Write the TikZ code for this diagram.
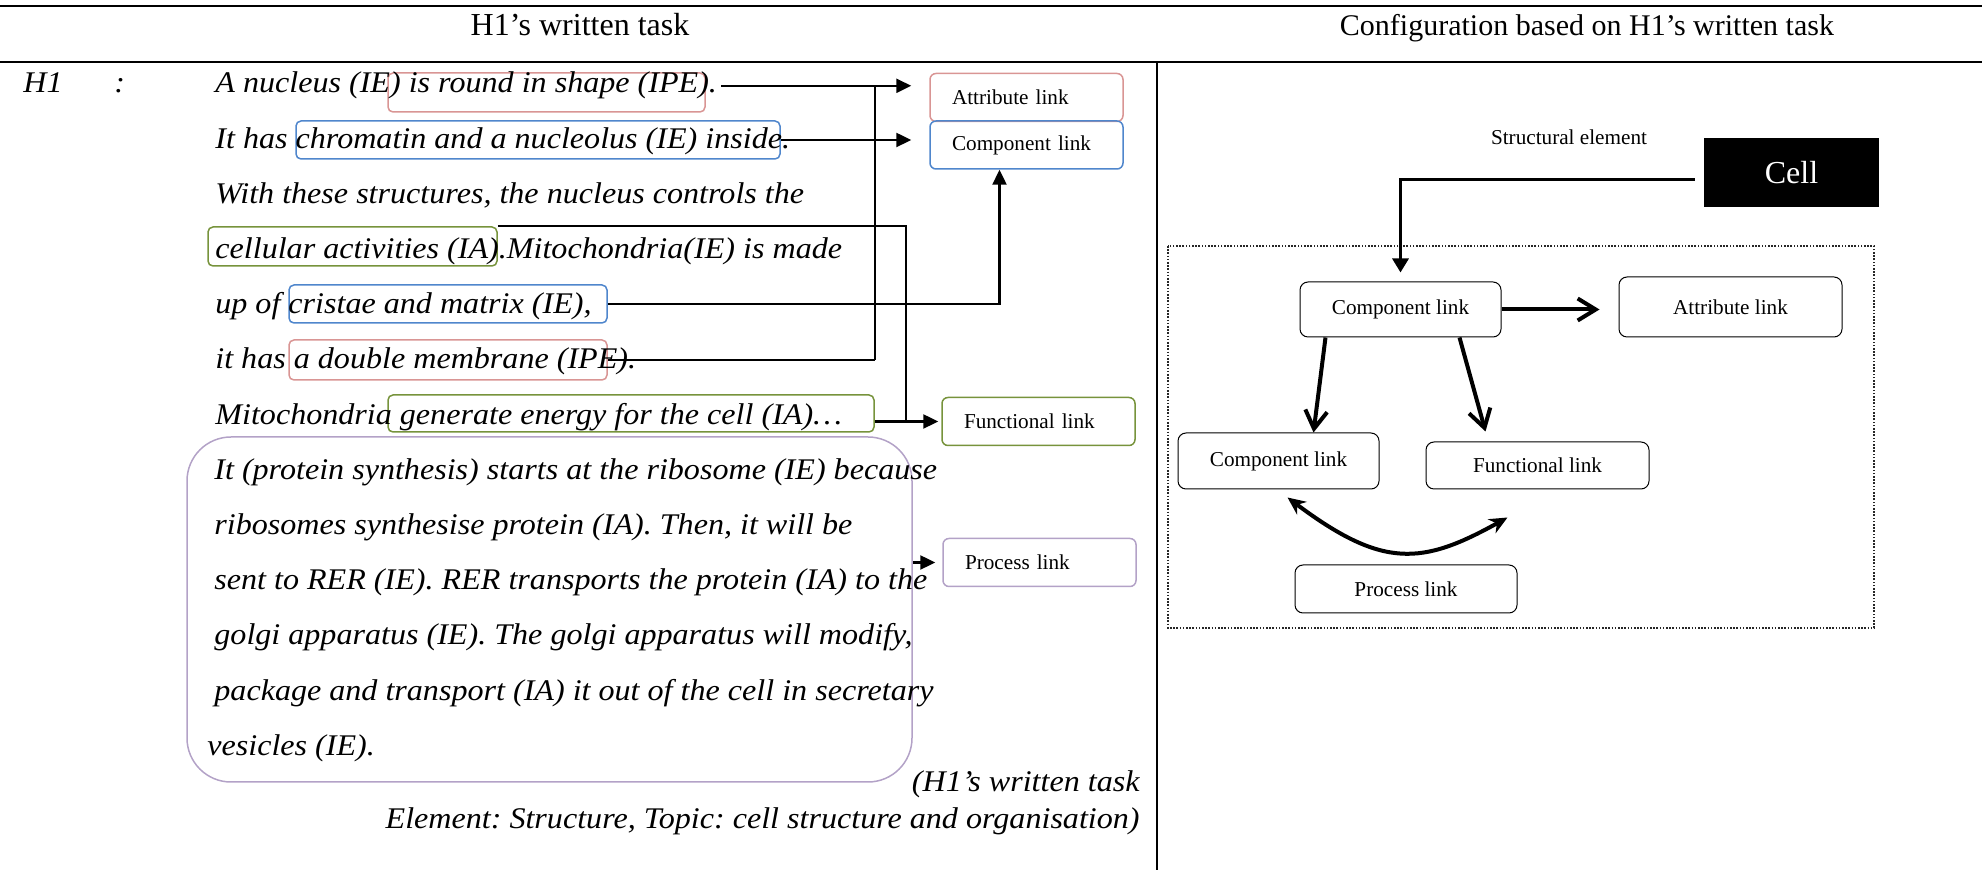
\documentclass[tikz,border=0pt]{standalone}
\usepackage{fontspec}
\setmainfont{Liberation Serif}
\newfontfamily\taskfamily[FakeStretch=1.07]{Liberation Serif}
\usepackage{tikz}
\usetikzlibrary{calc,arrows.meta}

\definecolor{hlpink}{RGB}{217,149,148}
\definecolor{hlblue}{RGB}{79,134,204}
\definecolor{hlgreen}{RGB}{119,147,60}
\definecolor{hlpurple}{RGB}{179,162,199}

\newcommand{\bodyfont}{\fontsize{15}{18}\taskfamily\itshape}
\newcommand{\linkfont}{\fontsize{10.6}{13}\selectfont}

\begin{document}
\frenchspacing
\begin{tikzpicture}[x=0.5pt, y=-0.5pt,
    body/.style={font=\bodyfont, inner sep=0pt, anchor=base west},
    head/.style={font=\fontsize{16}{19}\selectfont, inner sep=0pt, anchor=base},
    hlbox/.style={draw=#1, rounded corners=2.5pt, line width=0.75pt, inner sep=0pt},
    linkbox/.style={draw=#1, rounded corners=3pt, line width=0.75pt, font=\linkfont,
      text width=74.5pt, inner xsep=11pt, align=left, minimum height=24pt},
    cfgbox/.style={draw, rounded corners=4pt, line width=0.5pt, font=\linkfont, inner sep=0pt},
    link/.style={line width=1.2pt, -{Triangle[length=7.5pt,width=7pt]}},
    guide/.style={line width=0.75pt},
    barb/.style={line width=2pt, -{Straight Barb[length=9pt,width=11pt]}},
    cyc/.style={line width=2pt, {Stealth[length=9pt,width=8pt]}-{Stealth[length=9pt,width=8pt]}}
  ]
  \useasboundingbox (0,0) rectangle (1982,870);

  % Table rules and headings
  \draw[line width=1pt] (0,6) -- (1982,6);
  \draw[line width=1pt] (0,62) -- (1982,62);
  \draw[line width=0.75pt] (1157,62) -- (1157,870);
  \node[head] (th1) at (580,36) {H1’s written task};
  \node[head, font=\fontsize{15}{18}\selectfont] (th2) at (1587,36)
    {Configuration based on H1’s written task};

  % Highlights behind the written task
  \node[hlbox=hlpink, minimum width=158.5pt, minimum height=19.5pt] (hA) at (546.5,92.5) {};
  \node[hlbox=hlblue, minimum width=242pt, minimum height=19pt] (hB) at (538,140) {};
  \node[hlbox=hlgreen, minimum width=144.5pt, minimum height=19.5pt] (hC) at (352.5,246.5) {};
  \node[hlbox=hlblue, minimum width=159pt, minimum height=19pt] (hD) at (448,304) {};
  \node[hlbox=hlpink, minimum width=159pt, minimum height=20pt] (hE) at (448,360) {};
  \node[hlbox=hlgreen, minimum width=243pt, minimum height=18.5pt] (hF) at (631,413.5) {};
  \node[hlbox=hlpurple, rounded corners=22pt, minimum width=362.5pt,
    minimum height=172.5pt] (hG) at (549.5,609.5) {};

  % The written task, one line each
  \node[body] (who) at (23,93) {H1};
  \node[body] (colon) at (114,93) {:};
  \foreach \n/\x/\txt in {
      1/215/{A nucleus (IE) is round in shape (IPE).},
      2/215/{It has chromatin and a nucleolus (IE) inside.},
      3/215/{With these structures, the nucleus controls the},
      4/215/{cellular activities (IA).Mitochondria(IE) is made},
      5/215/{up of cristae and matrix (IE),},
      6/215/{it has a double membrane (IPE).},
      7/215/{Mitochondria generate energy for the cell (IA)…},
      8/214/{It (protein synthesis) starts at the ribosome (IE) because},
      9/214/{ribosomes synthesise protein (IA). Then, it will be},
      10/214/{sent to RER (IE). RER transports the protein (IA) to the},
      11/214/{golgi apparatus (IE). The golgi apparatus will modify,},
      12/214/{package and transport (IA) it out of the cell in secretary},
      13/207/{vesicles (IE).}} {
    \node[body] (l\n) at (\x, {93+55.2*(\n-1)}) {\txt};
  }
  \node[body, anchor=base east] (src1) at (1140,792) {(H1’s written task};
  \node[body, anchor=base east] (src2) at (1140,829)
    {Element: Structure, Topic: cell structure and organisation)};

  % Link boxes of the written task
  \node[linkbox=hlpink] (attr1) at (1026.5,97.5) {Attribute link};
  \node[linkbox=hlblue] (comp1) at (1026.5,145) {Component link};
  \node[linkbox=hlgreen] (func1) at (1038.5,421.5) {Functional link};
  \node[linkbox=hlpurple] (proc1) at (1039.5,562.5) {Process link};

  % Connectors of the written task
  \coordinate (j1) at (l1.east -| 875,0);
  \coordinate (j3) at (func1.west -| 906,0);
  \draw[link, shorten >=9pt, shorten <=2pt] (l1.east) -- (l1.east -| attr1.west);
  \draw[link, shorten >=9pt] (hB.east) -- (hB.east -| comp1.west);
  \draw[line width=1.2pt] (hE.east) -- (hE.east -| j1);
  \draw[guide] (hE.east -| j1) -- (j1);
  \draw[link] (hD.east) -| ($(comp1.south)+(-27,0)$);
  \draw[guide] (hC.north east) -| (j3);
  \draw[link, shorten >=1.5pt] (hF.east |- func1.west) -- (func1.west);
  \draw[link, shorten >=3.5pt] (hG.east |- proc1.west) -- (proc1.west);

  % Configuration
  \draw[black!85, line width=0.6pt, dash pattern=on 0.8pt off 0.8pt] (1168,246) rectangle (1874,628);
  \node[font=\linkfont] (struct) at (1569,137) {Structural element};
  \node[fill=black, text=white, font=\fontsize{16}{19}\selectfont,
    minimum width=87.5pt, minimum height=34.5pt] (cell) at (1791.5,172.5) {Cell};
  \node[cfgbox, minimum width=100.5pt, minimum height=27.5pt] (comp2) at (1400.5,309.5) {Component link};
  \node[cfgbox, minimum width=111.5pt, minimum height=30pt] (attr2) at (1730.5,307) {Attribute link};
  \node[cfgbox, minimum width=100.5pt, minimum height=28pt] (comp3) at (1278.5,461) {Component link};
  \node[cfgbox, minimum width=111.5pt, minimum height=23.5pt] (func2) at (1537.5,465.5) {Functional link};
  \node[cfgbox, minimum width=111pt, minimum height=24pt] (proc2) at (1406,589) {Process link};

  \draw[line width=1.6pt, -{Triangle[length=7pt,width=8pt]}, shorten <=4.5pt, shorten >=4.5pt]
    ([yshift=-3.5pt]cell.west) -| (comp2.north);
  \draw[barb, shorten >=9.5pt] (comp2.east) -- (comp2.east -| attr2.west);
  \draw[barb] ($(comp2.south)+(-75,0)$) -- ($(comp3.north)+(35,0)$);
  \draw[barb] ($(comp2.south)+(59,0)$) -- ($(func2.north)+(-52,-10)$);
  \draw[cyc] ($(comp3.south)+(9,8)$) .. controls (1383,569) and (1422,565)
    .. ($(func2.south)+(-30,28)$);
\end{tikzpicture}
\end{document}
